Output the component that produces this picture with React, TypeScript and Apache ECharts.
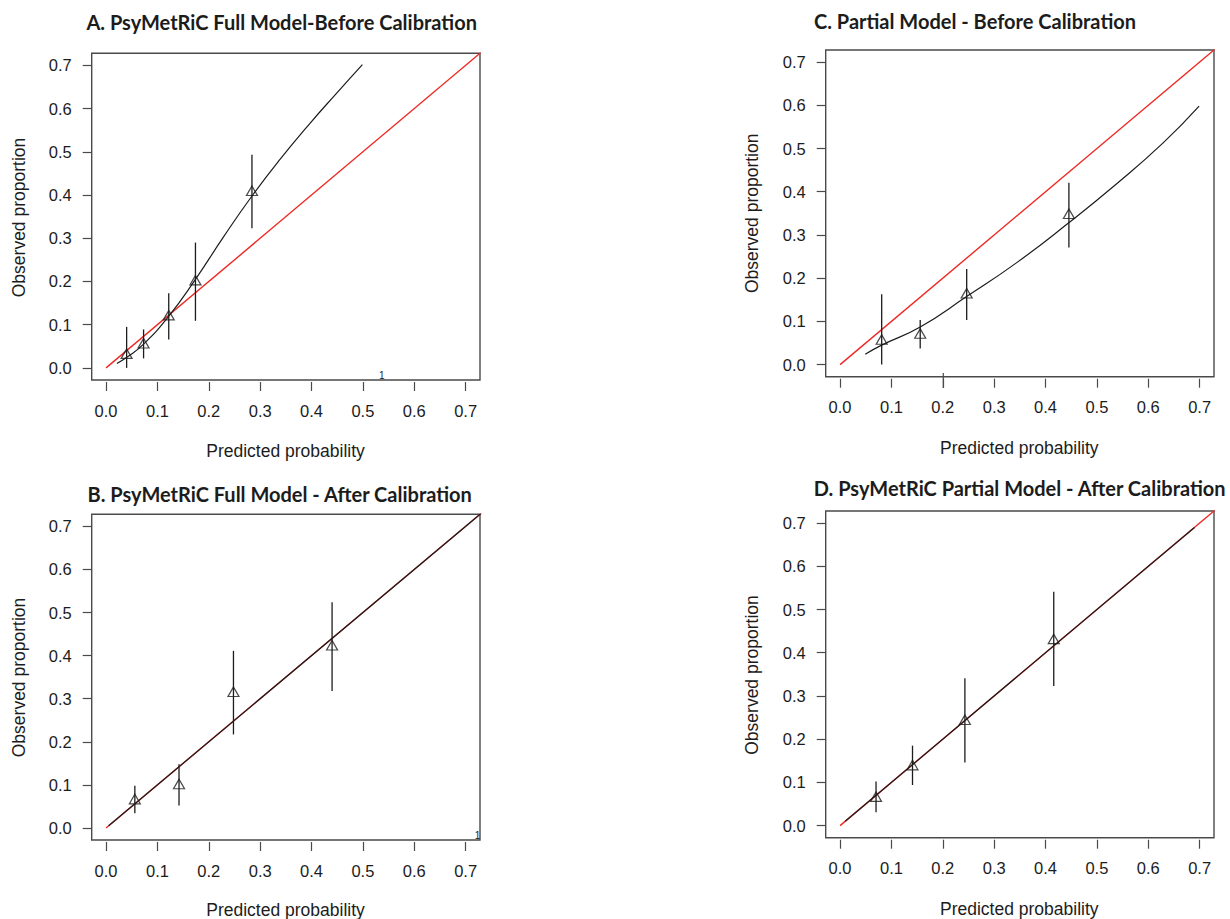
import React, { useEffect, useRef } from "react";
import * as echarts from "echarts";

// ---- tick values shared by all panels ----
const tickValues = [0, 0.1, 0.2, 0.3, 0.4, 0.5, 0.6, 0.7];
const idealLine = [0, 1];

// ---- Panel A: PsyMetRiC Full Model - Before Calibration ----
const predA = [0.040, 0.073, 0.122, 0.174, 0.284];
const obsA = [0.033, 0.057, 0.122, 0.203, 0.410];
const lowA = [0.0, 0.022, 0.066, 0.109, 0.323];
const highA = [0.095, 0.089, 0.173, 0.290, 0.493];
const curveAx = [0.021, 0.041, 0.073, 0.121, 0.173, 0.228, 0.283, 0.339, 0.397, 0.449, 0.499];
const curveAy = [0.010, 0.025, 0.055, 0.118, 0.203, 0.302, 0.396, 0.483, 0.566, 0.636, 0.702];

// ---- Panel B: PsyMetRiC Full Model - After Calibration ----
const predB = [0.056, 0.142, 0.248, 0.440];
const obsB = [0.067, 0.102, 0.316, 0.424];
const lowB = [0.034, 0.052, 0.217, 0.318];
const highB = [0.098, 0.148, 0.411, 0.524];
const curveBx = [0.005, 0.74];
const curveBy = [0.005, 0.74];

// ---- Panel C: Partial Model - Before Calibration ----
const predC = [0.081, 0.156, 0.2465, 0.4455];
const obsC = [0.058, 0.072, 0.165, 0.349];
const lowC = [0.0, 0.037, 0.103, 0.271];
const highC = [0.163, 0.103, 0.221, 0.421];
const curveCx = [0.049, 0.081, 0.156, 0.247, 0.344, 0.444, 0.538, 0.629, 0.699];
const curveCy = [0.024, 0.045, 0.087, 0.158, 0.236, 0.327, 0.418, 0.513, 0.598];

// ---- Panel D: PsyMetRiC Partial Model - After Calibration ----
const predD = [0.070, 0.141, 0.243, 0.416];
const obsD = [0.067, 0.140, 0.245, 0.432];
const lowD = [0.031, 0.094, 0.146, 0.323];
const highD = [0.102, 0.185, 0.341, 0.541];
const curveDx = [0.01, 0.69];
const curveDy = [0.01, 0.69];

const titles = [
  "A. PsyMetRiC Full Model-Before Calibration",
  "B. PsyMetRiC Full Model - After Calibration",
  "C. Partial Model - Before Calibration",
  "D. PsyMetRiC Partial Model - After Calibration",
];
const xName = "Predicted probability";
const yName = "Observed proportion";

const panels = [
  { pred: predA, obs: obsA, low: lowA, high: highA, cx: curveAx, cy: curveAy },
  { pred: predB, obs: obsB, low: lowB, high: highB, cx: curveBx, cy: curveBy },
  { pred: predC, obs: obsC, low: lowC, high: highC, cx: curveCx, cy: curveCy },
  { pred: predD, obs: obsD, low: lowD, high: highD, cx: curveDx, cy: curveDy },
];

// layout (px)
const grids = [
  { left: 91.7, top: 53.3, width: 388.3, height: 326.7 },
  { left: 91.7, top: 514.3, width: 388.3, height: 325.7 },
  { left: 825.7, top: 50, width: 388.3, height: 326.7 },
  { left: 825.7, top: 511, width: 388.3, height: 326.7 },
];
const titlePos = [
  [281.7, 22],
  [279.7, 494],
  [975, 21],
  [1019.7, 487.5],
];
const xNamePos = [
  [285.5, 451],
  [285.5, 909.5],
  [1019.3, 448],
  [1019.3, 908.5],
];
const yNamePos = [
  [18.5, 217.5],
  [18.5, 677.5],
  [752, 213.3],
  [752, 675],
];

const INK = "#1c1c1c";
const BOX = "#4a4a4a";
const RED = "#ee2a24";
const LABEL_FONT = "'Liberation Sans', Arial, Helvetica, sans-serif";
const TITLE_FONT = "Lato, 'Open Sans', sans-serif";

function textEl(text: string, x: number, y: number, size: number, opts: any = {}) {
  return {
    type: "text",
    x,
    y,
    rotation: opts.rotation || 0,
    silent: true,
    style: {
      text,
      fontSize: size,
      fontFamily: opts.family || LABEL_FONT,
      fontWeight: opts.weight || "normal",
      fill: INK,
      align: "center",
      verticalAlign: "middle",
      textAlign: "center",
      textVerticalAlign: "middle",
    },
  };
}

export default function App() {
  const ref = useRef<HTMLDivElement>(null);

  useEffect(() => {
    document.body.style.margin = "0";
    if (!ref.current) return;
    const chart = echarts.init(ref.current, null, { renderer: "svg" });

    const xAxis: any[] = [];
    const yAxis: any[] = [];
    const series: any[] = [];

    grids.forEach((g, i) => {
      const common = {
        gridIndex: i,
        type: "value",
        min: -0.028,
        max: 0.728,
        splitLine: { show: false },
        axisLine: { show: false, onZero: false },
        axisTick: {
          show: true,
          inside: false,
          length: 9,
          customValues: tickValues,
          lineStyle: { color: BOX, width: 1.2 },
        },
        axisLabel: {
          customValues: tickValues,
          formatter: (v: number) => v.toFixed(1),
          fontSize: 16.5,
          fontFamily: LABEL_FONT,
          color: INK,
          margin: 20,
        },
      };
      xAxis.push({ ...common, position: "bottom", offset: 2 });
      yAxis.push({ ...common, position: "left" });

      const p = panels[i];
      // ideal line
      series.push({
        type: "line",
        xAxisIndex: i,
        yAxisIndex: i,
        data: idealLine.map((v) => [v, v]),
        symbol: "none",
        clip: true,
        lineStyle: { color: RED, width: 1.4 },
        silent: true,
        z: 2,
      });
      // calibration curve
      series.push({
        type: "line",
        xAxisIndex: i,
        yAxisIndex: i,
        data: p.cx.map((x, k) => [x, p.cy[k]]),
        symbol: "none",
        smooth: 0.5,
        clip: true,
        lineStyle: { color: INK, width: 1.2 },
        silent: true,
        z: 3,
      });
      // error bars
      series.push({
        type: "custom",
        xAxisIndex: i,
        yAxisIndex: i,
        data: p.pred.map((x, k) => [x, p.low[k], p.high[k]]),
        encode: { x: 0, y: [1, 2] },
        silent: true,
        z: 4,
        renderItem: (params: any, api: any) => {
          const x = api.value(0);
          const a = api.coord([x, api.value(1)]);
          const b = api.coord([x, api.value(2)]);
          return {
            type: "line",
            shape: { x1: a[0], y1: a[1], x2: b[0], y2: b[1] },
            style: { stroke: INK, lineWidth: 1.3 },
          };
        },
      });
      // triangles
      series.push({
        type: "scatter",
        xAxisIndex: i,
        yAxisIndex: i,
        data: p.pred.map((x, k) => [x, p.obs[k]]),
        symbol: "triangle",
        symbolSize: [11, 9.5],
        itemStyle: { color: "rgba(0,0,0,0)", borderColor: INK, borderWidth: 1.2 },
        silent: true,
        z: 5,
      });
    });

    const graphic: any[] = [];
    titles.forEach((t, i) => {
      graphic.push(textEl(t, titlePos[i][0], titlePos[i][1], 20, { family: TITLE_FONT, weight: "bold" }));
      graphic.push(textEl(xName, xNamePos[i][0], xNamePos[i][1], 17.5));
      graphic.push(textEl(yName, yNamePos[i][0], yNamePos[i][1], 17.5, { rotation: Math.PI / 2 }));
    });
    graphic.push(textEl("1", 381.7, 375, 10));
    graphic.push(textEl("1", 477.5, 835.5, 10));
    graphic.push({
      type: "line",
      silent: true,
      shape: { x1: 943.3, y1: 373, x2: 943.3, y2: 388 },
      style: { stroke: BOX, lineWidth: 1.2 },
    });

    chart.setOption({
      animation: false,
      backgroundColor: "#ffffff",
      grid: grids.map((g) => ({
        ...g,
        show: true,
        borderColor: BOX,
        borderWidth: 1.4,
        backgroundColor: "transparent",
        containLabel: false,
      })),
      xAxis,
      yAxis,
      series,
      graphic,
    });

    return () => chart.dispose();
  }, []);

  return <div ref={ref} style={{ width: 1230, height: 919 }} />;
}
